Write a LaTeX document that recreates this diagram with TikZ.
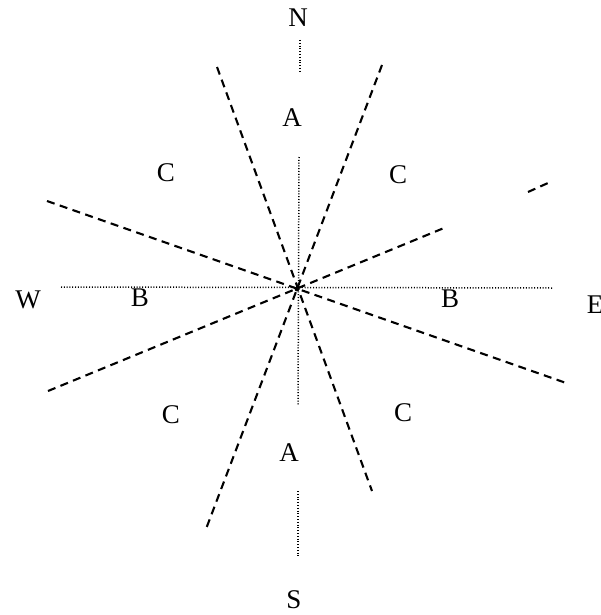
\documentclass[tikz,border=0pt]{standalone}
\usepackage{fontspec}
\setmainfont{Liberation Serif}
\begin{document}
\begin{tikzpicture}[x=1pt,y=-1pt,
  lbl/.style={font=\fontsize{27}{29}\selectfont, inner sep=0pt},
  dash line/.style={line width=2.1pt, dash pattern=on 8pt off 5.5pt},
  dot line/.style={line width=1.5pt, dash pattern=on 1pt off 1.8pt}]
\useasboundingbox (0,0) rectangle (600,615);
\coordinate (O) at (297,289);
% dotted axes
\draw[dot line] (300,40) -- (300,71);
\draw[dot line] (299,157) -- (298,406);
\draw[dot line] (298,491) -- (298,556);
\draw[dot line] (61,287) -- (552,288);
% dashed lines
\draw[dash line] (217,67) -- (372,491);
\draw[dash line] (382,65) -- (206,529);
\draw[dash line] (47,201) -- (569,384);
\draw[dash line] (48,391) -- (444,228);
\draw[dash line] (528,192) -- (548,183);
\fill (O) circle (2.4pt);
% labels
\node[lbl] (n) at (298,18) {N};
\node[lbl] (s) at (294,600) {S};
\node[lbl] (w) at (28,300) {W};
\node[lbl] (e) at (595,305) {E};
\node[lbl] (a1) at (292,118) {A};
\node[lbl] (a2) at (289,453) {A};
\node[lbl] (b1) at (140,298) {B};
\node[lbl] (b2) at (450,299) {B};
\node[lbl] (c1) at (166,173) {C};
\node[lbl] (c2) at (398,175) {C};
\node[lbl] (c3) at (171,415) {C};
\node[lbl] (c4) at (403,413) {C};
\end{tikzpicture}
\end{document}
